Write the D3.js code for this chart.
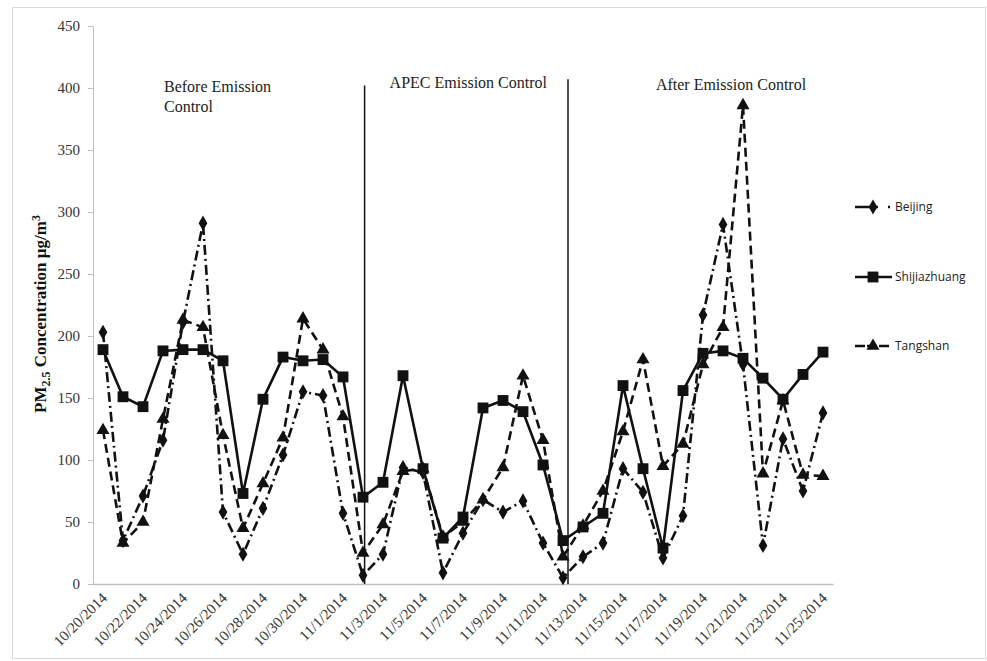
<!DOCTYPE html>
<html>
<head>
<meta charset="utf-8">
<script src="https://cdn.jsdelivr.net/npm/d3@7"></script>
<style>
  html, body { margin: 0; padding: 0; background: #fff; }
  svg { display: block; }
</style>
</head>
<body>
<svg id="chart" width="987" height="661"></svg>
<script>
// Daily PM2.5 observations, 20 Oct – 25 Nov 2014
const dates = [
  "10/20/2014","10/21/2014","10/22/2014","10/23/2014","10/24/2014","10/25/2014",
  "10/26/2014","10/27/2014","10/28/2014","10/29/2014","10/30/2014","10/31/2014",
  "11/1/2014","11/2/2014","11/3/2014","11/4/2014","11/5/2014","11/6/2014",
  "11/7/2014","11/8/2014","11/9/2014","11/10/2014","11/11/2014","11/12/2014",
  "11/13/2014","11/14/2014","11/15/2014","11/16/2014","11/17/2014","11/18/2014",
  "11/19/2014","11/20/2014","11/21/2014","11/22/2014","11/23/2014","11/24/2014",
  "11/25/2014"
];

const beijing = [
  203, 35, 71, 116, 211, 291, 58, 24, 61, 104, 155, 152,
  57, 7, 24, 94, 90, 9, 41, 68, 58, 67, 33, 5,
  22, 33, 93, 74, 21, 55, 217, 290, 177, 31, 117, 75, 138
];

const shijiazhuang = [
  189, 151, 143, 188, 189, 189, 180, 73, 149, 183, 180, 181,
  167, 70, 82, 168, 93, 37, 54, 142, 148, 139, 96, 35,
  46, 57, 160, 93, 29, 156, 186, 188, 182, 166, 149, 169, 187
];

const tangshan = [
  124, 33, 50, 133, 213, 207, 120, 45, 81, 118, 214, 189,
  135, 25, 48, 91, 93, 38, 50, 68, 94, 168, 116, 22,
  47, 75, 123, 181, 95, 113, 177, 207, 386, 89, 148, 88, 87
];

const seriesNames = ["Beijing", "Shijiazhuang", "Tangshan"];
const yTicks = [0, 50, 100, 150, 200, 250, 300, 350, 400, 450];
const xTickLabels = dates.filter((d, i) => i % 2 === 0);

// Period dividers (position in day index, top value) and period captions
const dividerDays = [13.08, 23.25];
const dividerTops = [402, 407];
const periodLabels = [["Before Emission", "Control"], ["APEC Emission Control"], ["After Emission Control"]];

const svg = d3.select("#chart");
const W = 987, H = 661;
const plot = { left: 93, right: 833, top: 26, bottom: 584 };

svg.append("rect").attr("width", W).attr("height", H).attr("fill", "#fff");
svg.append("rect")
  .attr("x", 12.5).attr("y", 7.5).attr("width", 973).attr("height", 651)
  .attr("fill", "none").attr("stroke", "#d9d9d9").attr("stroke-width", 1);

const x = d3.scaleBand().domain(dates).range([plot.left, plot.right]).padding(0);
const y = d3.scaleLinear().domain([0, 450]).range([plot.bottom, plot.top]);
const cx = d => x(d) + x.bandwidth() / 2;
const dayX = d3.scaleLinear().domain([0, dates.length - 1])
  .range([cx(dates[0]), cx(dates[dates.length - 1])]);

const serif = "'Liberation Serif', 'Times New Roman', serif";

// Y axis
const yAxis = svg.append("g")
  .attr("transform", `translate(${plot.left},0)`)
  .call(d3.axisLeft(y).tickValues(yTicks).tickSize(5).tickPadding(8));
yAxis.select(".domain").attr("stroke", "#bfbfbf");
yAxis.selectAll(".tick line").attr("stroke", "#bfbfbf");
yAxis.selectAll(".tick text")
  .attr("font-family", serif).attr("font-size", 15).attr("fill", "#333");

// X axis
const xAxis = svg.append("g")
  .attr("transform", `translate(0,${plot.bottom})`)
  .call(d3.axisBottom(x).tickValues(xTickLabels).tickSize(0).tickPadding(0));
xAxis.select(".domain").attr("stroke", "#bfbfbf").attr("stroke-width", 1.5);
xAxis.selectAll(".tick text")
  .attr("font-family", serif).attr("font-size", 15).attr("fill", "#333")
  .attr("text-anchor", "end")
  .attr("dy", null)
  .attr("y", 0)
  .attr("transform", "translate(5,15) rotate(-45)");

// Y axis title with sub/superscripts
const title = svg.append("text")
  .attr("transform", `translate(46,${y(200) - 22}) rotate(-90)`)
  .attr("text-anchor", "middle")
  .attr("font-family", serif).attr("font-weight", "bold")
  .attr("font-size", 17).attr("fill", "#111");
title.append("tspan").text("PM");
title.append("tspan").attr("font-size", 12).attr("dy", 4).text("2.5");
title.append("tspan").attr("dy", -4).text(" Concentration µg/m");
title.append("tspan").attr("font-size", 12).attr("dy", -6).text("3");

// Period dividers
svg.append("g").selectAll("line")
  .data(dividerDays)
  .join("line")
  .attr("x1", d => dayX(d)).attr("x2", d => dayX(d))
  .attr("y1", (d, i) => y(dividerTops[i])).attr("y2", y(0))
  .attr("stroke", "#111").attr("stroke-width", 1.5);

// Period captions
const cap = svg.append("g").attr("font-family", serif).attr("font-size", 16).attr("fill", "#222");
cap.append("text").attr("x", 164).attr("y", 92).text(periodLabels[0][0]);
cap.append("text").attr("x", 164).attr("y", 112).text(periodLabels[0][1]);
cap.append("text").attr("x", (dayX(dividerDays[0]) + dayX(dividerDays[1])) / 2 + 2)
  .attr("y", 88).attr("text-anchor", "middle").text(periodLabels[1][0]);
cap.append("text").attr("x", 731).attr("y", 90).attr("text-anchor", "middle").text(periodLabels[2][0]);

// Series
const series = [
  { name: seriesNames[0], values: beijing, dash: "10,4,2,4", legendDash: "23,10,2,10",
    symbol: d3.symbolDiamond, size: 66 },
  { name: seriesNames[1], values: shijiazhuang, dash: null, legendDash: null,
    symbol: d3.symbolSquare, size: 118 },
  { name: seriesNames[2], values: tangshan, dash: "9,5", legendDash: "10,2",
    symbol: d3.symbolTriangle, size: 74 }
];

const line = d3.line().x((v, i) => cx(dates[i])).y(v => y(v));

series.forEach(s => {
  const g = svg.append("g");
  g.append("path")
    .attr("d", line(s.values))
    .attr("fill", "none").attr("stroke", "#111").attr("stroke-width", 2.6)
    .attr("stroke-dasharray", s.dash);
  g.selectAll("path.m")
    .data(s.values)
    .join("path").attr("class", "m")
    .attr("d", d3.symbol().type(s.symbol).size(s.size))
    .attr("transform", (v, i) => `translate(${cx(dates[i])},${y(v)})`)
    .attr("fill", "#111");
});

// Legend
const legendY = [207, 277, 346];
const legend = svg.append("g");
series.forEach((s, i) => {
  const g = legend.append("g").attr("transform", `translate(0,${legendY[i]})`);
  g.append("line").attr("x1", 855).attr("x2", i === 2 ? 889 : 892).attr("y1", 0).attr("y2", 0)
    .attr("stroke", "#111").attr("stroke-width", 2.6).attr("stroke-dasharray", s.legendDash);
  g.append("path").attr("d", d3.symbol().type(s.symbol).size(s.size)())
    .attr("transform", "translate(873,0)").attr("fill", "#111");
  g.append("text").attr("x", 895).attr("y", 0).attr("dy", "0.35em")
    .attr("font-family", "'Open Sans', 'Noto Sans', sans-serif").attr("font-size", 12)
    .attr("fill", "#222").text(s.name);
});
</script>
</body>
</html>
